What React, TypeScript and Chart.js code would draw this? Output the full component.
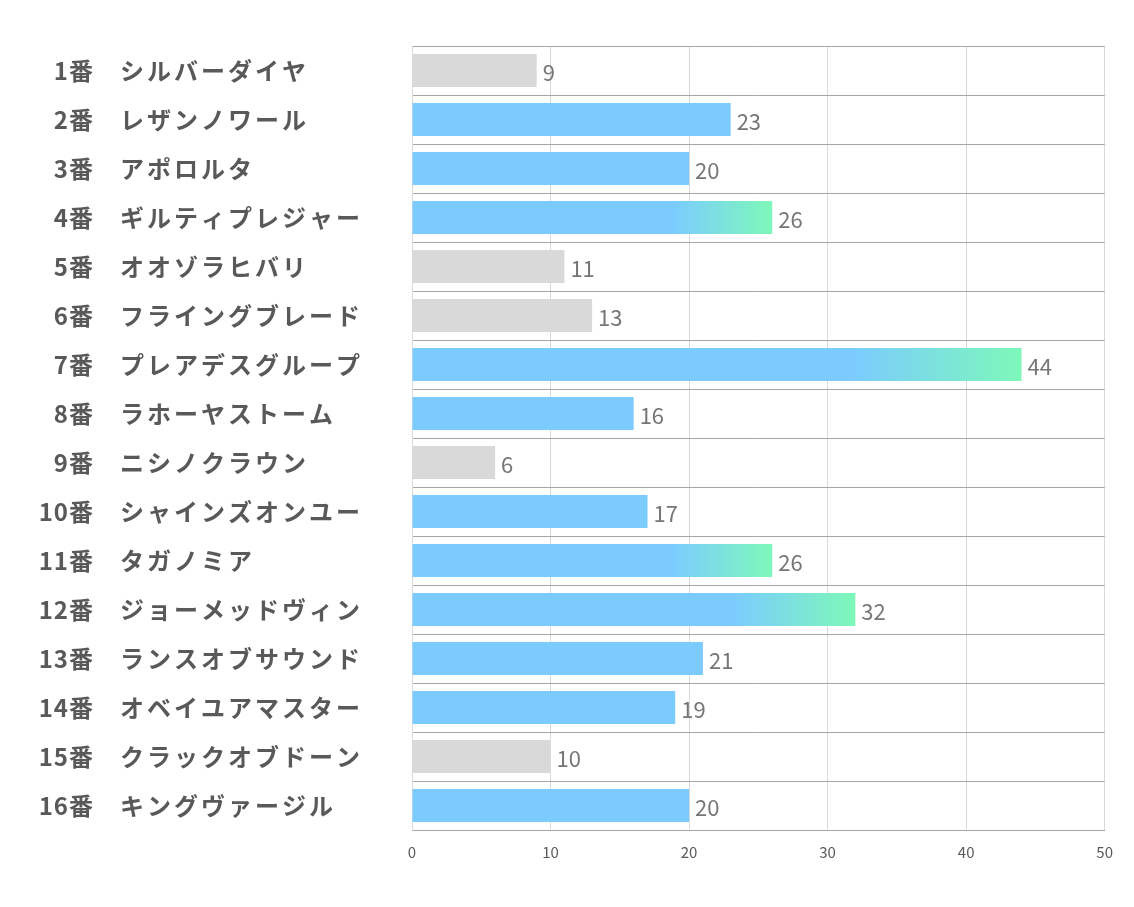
import React, { useEffect, useRef } from "react";
import { Chart, registerables } from "chart.js";

Chart.register(...registerables);

const numbers: string[] = ["1番","2番","3番","4番","5番","6番","7番","8番","9番","10番","11番","12番","13番","14番","15番","16番"];
const names: string[] = ["シルバーダイヤ","レザンノワール","アポロルタ","ギルティプレジャー","オオゾラヒバリ","フライングブレード","プレアデスグループ","ラホーヤストーム","ニシノクラウン","シャインズオンユー","タガノミア","ジョーメッドヴィン","ランスオブサウンド","オベイユアマスター","クラックオブドーン","キングヴァージル"];
const values: number[] = [9,23,20,26,11,13,44,16,6,17,26,32,21,19,10,20];
// 0 = gray, 1 = blue, 2 = blue→green gradient
const styles: number[] = [0,1,1,2,0,0,2,1,0,1,2,2,1,1,0,1];
const xTicks: number[] = [0,10,20,30,40,50];

const GRAY = "#d9d9d9";
const BLUE = "#7bcbff";
const GREEN = "#7df8b9";
const FONT = "'Noto Sans CJK JP', 'Noto Sans', sans-serif";

export default function App() {
  const ref = useRef<HTMLCanvasElement | null>(null);
  useEffect(() => {
    const canvas = ref.current;
    if (!canvas) return;

    const labelPlugin = {
      id: "labels",
      afterDraw(chart: any) {
        const ctx = chart.ctx;
        const y = chart.scales.y;
        const x = chart.scales.x;
        ctx.save();
        ctx.textBaseline = "middle";
        ctx.font = `bold 24px ${FONT}`;
        ctx.fillStyle = "#595959";
        numbers.forEach((n, i) => {
          const py = y.getPixelForValue(i);
          ctx.textAlign = "right";
          (ctx as any).letterSpacing = "1px";
          ctx.fillText(n, 86, py);
          ctx.textAlign = "left";
          (ctx as any).letterSpacing = "3px";
          ctx.fillText(names[i], 112, py);
        });
        (ctx as any).letterSpacing = "0px";
        ctx.font = `22px ${FONT}`;
        ctx.fillStyle = "#767676";
        ctx.textAlign = "left";
        values.forEach((v, i) => {
          const py = y.getPixelForValue(i);
          const px = x.getPixelForValue(v);
          ctx.fillText(String(v), px + 6, py + 2);
        });
        ctx.restore();
      },
    };

    const chart = new Chart(canvas, {
      type: "bar",
      data: {
        labels: numbers.map((n, i) => n + "　" + names[i]),
        datasets: [
          {
            data: values,
            categoryPercentage: 1,
            barPercentage: 0.67,
            borderWidth: 0,
            backgroundColor: (c: any) => {
              const i = c.dataIndex;
              const s = styles[i];
              if (s === 0) return GRAY;
              if (s === 1) return BLUE;
              const chartRef = c.chart;
              const xs = chartRef.scales && chartRef.scales.x;
              if (!xs || !chartRef.chartArea) return BLUE;
              const x0 = xs.getPixelForValue(0);
              const x1 = xs.getPixelForValue(values[i]);
              const g = chartRef.ctx.createLinearGradient(x0, 0, x1, 0);
              g.addColorStop(0, BLUE);
              g.addColorStop(0.72, BLUE);
              g.addColorStop(1, GREEN);
              return g;
            },
          },
        ],
      },
      options: {
        indexAxis: "y",
        animation: false,
        responsive: false,
        maintainAspectRatio: false,
        layout: { padding: { left: 0, right: 21, top: 38, bottom: 25 } },
        plugins: {
          legend: { display: false },
          tooltip: { enabled: false },
        },
        scales: {
          x: {
            min: 0,
            max: 50,
            afterBuildTicks: (s: any) => {
              s.ticks = xTicks.map((v) => ({ value: v }));
            },
            grid: { color: "#d9d9d9", drawTicks: false, lineWidth: 1 },
            border: { color: "#a6a6a6" },
            ticks: {
              color: "#595959",
              font: { family: FONT, size: 15 },
              padding: 13,
            },
          },
          y: {
            afterFit: (s: any) => {
              s.width = 404;
            },
            grid: { color: "#a6a6a6", drawTicks: false, offset: true },
            border: { color: "#d9d9d9" },
            ticks: { display: false },
          },
        },
      },
      plugins: [labelPlugin],
    });
    return () => chart.destroy();
  }, []);

  return (
    <div style={{ width: 1118, height: 891 }}>
      <canvas ref={ref} width={1118} height={891} style={{ display: "block" }} />
    </div>
  );
}
